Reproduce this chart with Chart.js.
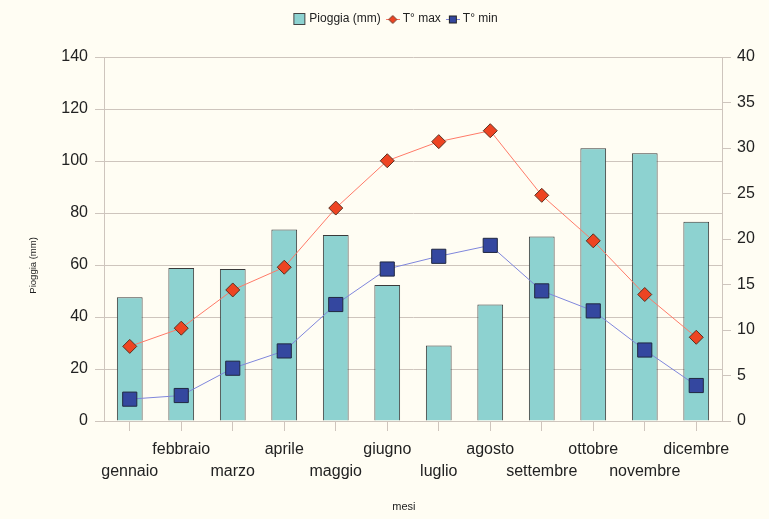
<!DOCTYPE html>
<html>
<head>
<meta charset="utf-8">
<script src="https://cdn.jsdelivr.net/npm/chart.js@4/dist/chart.umd.min.js"></script>
<style>
  html, body { margin: 0; padding: 0; background: #fffdf3; }
  canvas { display: block; }
</style>
</head>
<body>
<canvas id="chart" width="769" height="519"></canvas>
<script>
const months = ["gennaio", "febbraio", "marzo", "aprile", "maggio", "giugno",
  "luglio", "agosto", "settembre", "ottobre", "novembre", "dicembre"];
const pioggia = [47.6, 58.8, 58.5, 73.7, 71.5, 52.3, 29.0, 44.8, 71.0, 104.9, 103.0, 76.6];
const tMax = [8.2, 10.2, 14.4, 16.9, 23.4, 28.6, 30.7, 31.9, 24.8, 19.8, 13.9, 9.2];
const tMin = [2.4, 2.8, 5.8, 7.7, 12.8, 16.7, 18.1, 19.3, 14.3, 12.1, 7.8, 3.9];

const FONT = "'Liberation Sans', Arial, sans-serif";
const TEXT = "#222222";
const GRID = "#cec5bd";

// legend icons
function makeIcon(kind) {
  const c = document.createElement("canvas");
  c.width = 14;
  c.height = 12;
  const g = c.getContext("2d");
  if (kind === "bar") {
    g.fillStyle = "#8dd2d0";
    g.strokeStyle = "#444";
    g.fillRect(1.5, 0.5, 11, 11);
    g.strokeRect(1.5, 0.5, 11, 11);
  } else if (kind === "max") {
    g.strokeStyle = "#ff7a68";
    g.beginPath(); g.moveTo(0, 6.5); g.lineTo(14, 6.5); g.stroke();
    g.fillStyle = "#ee4422";
    g.strokeStyle = "#663322";
    g.beginPath();
    g.moveTo(7, 2.5); g.lineTo(11, 6.5); g.lineTo(7, 10.5); g.lineTo(3, 6.5);
    g.closePath(); g.fill(); g.stroke();
  } else {
    g.strokeStyle = "#7f86dc";
    g.beginPath(); g.moveTo(0, 6.5); g.lineTo(14, 6.5); g.stroke();
    g.fillStyle = "#34479f";
    g.strokeStyle = "#222";
    g.fillRect(3.5, 3, 7, 7);
    g.strokeRect(3.5, 3, 7, 7);
  }
  return c;
}

new Chart(document.getElementById("chart").getContext("2d"), {
  data: {
    labels: months,
    datasets: [
      {
        type: "bar",
        label: "Pioggia (mm)",
        data: pioggia,
        xAxisID: "x",
        yAxisID: "y",
        backgroundColor: "#8dd2d0",
        borderColor: "#3a3a3a",
        borderWidth: 1,
        barPercentage: 0.5,
        categoryPercentage: 1,
        order: 2,
      },
      {
        type: "line",
        label: "T° max",
        data: tMax,
        xAxisID: "x",
        yAxisID: "y2",
        borderColor: "#ff7a68",
        borderWidth: 1,
        pointStyle: "rectRot",
        pointRadius: 7,
        pointBackgroundColor: "#ee4422",
        pointBorderColor: "#5a3020",
        pointBorderWidth: 1,
        order: 1,
      },
      {
        type: "line",
        label: "T° min",
        data: tMin,
        xAxisID: "x",
        yAxisID: "y2",
        borderColor: "#7f86dc",
        borderWidth: 1,
        pointStyle: "rect",
        pointRadius: 10,
        pointBackgroundColor: "#34479f",
        pointBorderColor: "#202840",
        pointBorderWidth: 1,
        order: 0,
      },
    ],
  },
  options: {
    responsive: false,
    animation: false,
    devicePixelRatio: 1,
    layout: { padding: { top: 5, right: 0, bottom: 0, left: 24 } },
    plugins: {
      tooltip: { enabled: false },
      legend: {
        position: "top",
        labels: {
          usePointStyle: true,
          pointStyleWidth: 8,
          boxHeight: 12,
          padding: 8,
          color: TEXT,
          font: { family: FONT, size: 12 },
          generateLabels: (chart) => [
            { text: "Pioggia (mm)", pointStyle: makeIcon("bar"), datasetIndex: 0, fontColor: TEXT, lineWidth: 0 },
            { text: "T° max", pointStyle: makeIcon("max"), datasetIndex: 1, fontColor: TEXT, lineWidth: 0 },
            { text: "T° min", pointStyle: makeIcon("min"), datasetIndex: 2, fontColor: TEXT, lineWidth: 0 },
          ],
        },
      },
    },
    scales: {
      x: {
        type: "category",
        offset: true,
        grid: { display: true, offset: false, drawOnChartArea: false, color: GRID, tickLength: 10 },
        border: { display: true, color: GRID },
        ticks: {
          autoSkip: false,
          maxRotation: 0,
          padding: 7,
          color: TEXT,
          font: { family: FONT, size: 16, lineHeight: 1.42 },
          callback: (v, i) => (i % 2 ? [months[i], ""] : ["", months[i]]),
        },
        title: {
          display: true,
          text: "mesi" + " ".repeat(6),
          color: TEXT,
          font: { family: FONT, size: 11 },
          padding: { top: 0, bottom: 5 },
        },
        afterFit: (s) => { s.height = 98; },
      },
      // empty band between legend and plot
      spacer: {
        type: "category",
        position: "top",
        grid: { display: false },
        border: { display: false },
        ticks: { display: false },
        afterFit: (s) => { s.height = 22; },
      },
      y: {
        position: "left",
        min: 0,
        max: 140,
        ticks: { stepSize: 20, padding: 7, color: TEXT, font: { family: FONT, size: 16 } },
        grid: { color: GRID, tickLength: 9 },
        border: { display: true, color: GRID },
        title: {
          display: true,
          text: "Pioggia (mm)" + " ".repeat(20),
          color: TEXT,
          font: { family: FONT, size: 9.5 },
          padding: { top: 4, bottom: 0 },
        },
        afterFit: (s) => { s.width = 80; },
      },
      y2: {
        position: "right",
        min: 0,
        max: 40,
        ticks: { stepSize: 5, padding: 6, color: TEXT, font: { family: FONT, size: 16 } },
        grid: { drawOnChartArea: false, color: GRID, tickLength: 9 },
        border: { display: true, color: GRID },
        afterFit: (s) => { s.width = 47; },
      },
    },
  },
});
</script>
</body>
</html>
